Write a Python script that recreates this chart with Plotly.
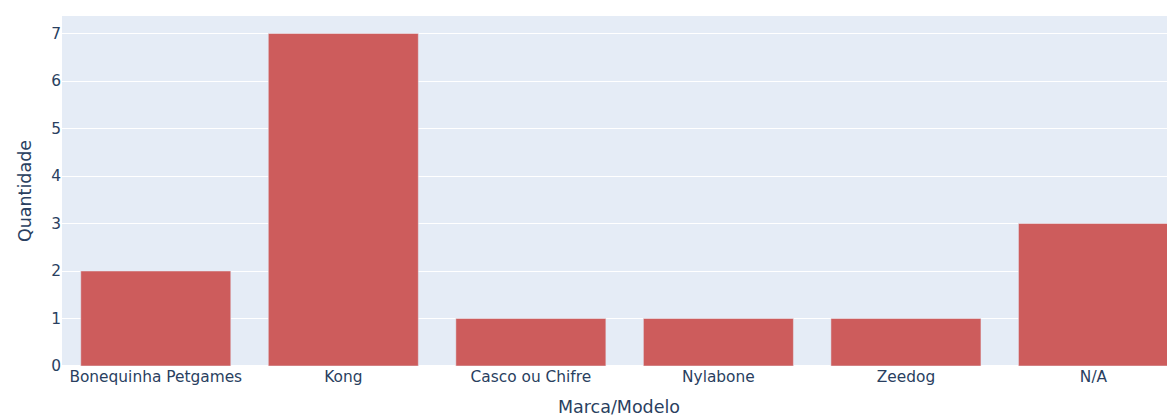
import plotly.graph_objects as go

categorias = ["Bonequinha Petgames", "Kong", "Casco ou Chifre", "Nylabone", "Zeedog", "N/A"]
quantidade = [2, 7, 1, 1, 1, 3]

fig = go.Figure(go.Bar(x=categorias, y=quantidade, marker_color="indianred"))
fig.update_layout(
    template="plotly",
    width=1168,
    height=412,
    margin=dict(l=54, r=0, t=8, b=54),
    font=dict(family="DejaVu Sans", size=15),
    xaxis=dict(title=dict(text="Marca/Modelo", font=dict(size=17.5)), range=[-0.5, 5.44],
               tickfont=dict(size=15.4)),
    yaxis=dict(title=dict(text="Quantidade", font=dict(size=17.5)), tickfont=dict(size=15.4)),
    showlegend=False,
)
fig.write_html("out.html")
